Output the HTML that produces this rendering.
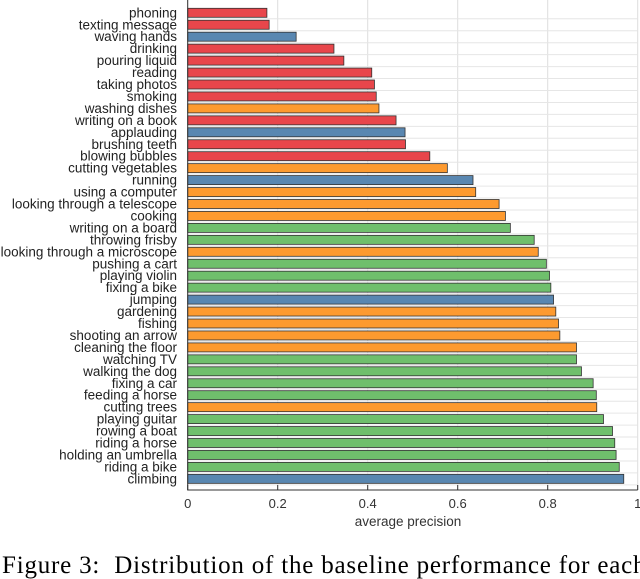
<!DOCTYPE html>
<html><head><meta charset="utf-8"><style>
body{margin:0;background:#fff;width:640px;height:562px;overflow:hidden;position:relative}
svg{position:absolute;left:0;top:0}
.cap{position:absolute;left:2px;top:553px;line-height:1;font-family:"Liberation Serif",serif;font-size:25px;white-space:nowrap;letter-spacing:0.8px}
</style></head><body>
<svg id="chart" width="640" height="562"></svg>
<div class="cap">Figure 3:&nbsp; Distribution of the baseline performance for each</div>
<script>
const categories=["phoning","texting message","waving hands","drinking","pouring liquid","reading","taking photos","smoking","washing dishes","writing on a book","applauding","brushing teeth","blowing bubbles","cutting vegetables","running","using a computer","looking through a telescope","cooking","writing on a board","throwing frisby","looking through a microscope","pushing a cart","playing violin","fixing a bike","jumping","gardening","fishing","shooting an arrow","cleaning the floor","watching TV","walking the dog","fixing a car","feeding a horse","cutting trees","playing guitar","rowing a boat","riding a horse","holding an umbrella","riding a bike","climbing"];
const values=[0.176,0.181,0.241,0.325,0.347,0.409,0.415,0.419,0.425,0.463,0.483,0.484,0.538,0.577,0.634,0.640,0.692,0.706,0.717,0.770,0.779,0.797,0.804,0.807,0.813,0.818,0.824,0.827,0.864,0.864,0.875,0.901,0.908,0.909,0.924,0.944,0.949,0.952,0.959,0.969];
const groups=["r","r","b","r","r","r","r","r","o","r","b","r","r","o","b","o","o","o","g","g","o","g","g","g","b","o","o","o","o","g","g","g","g","o","g","g","g","g","g","b"];
const ticks=[0,0.2,0.4,0.6,0.8,1];
const tickLabels=["0","0.2","0.4","0.6","0.8","1"];
const colors={r:"#e8464b",b:"#5987b1",o:"#fd9a2f",g:"#6fbf6c"};
const NS="http://www.w3.org/2000/svg";
const svg=document.getElementById("chart");
const X0=187.7,X1=637.7,BOT=490,PITCH=11.95,FIRST=12.8;
const x=v=>X0+(X1-X0)*v;
const yc=i=>FIRST+i*PITCH;
function mk(t,a){const e=document.createElementNS(NS,t);for(const k in a)e.setAttribute(k,a[k]);svg.appendChild(e);return e;}
ticks.forEach((t,i)=>{
 const g=mk("line",{x1:x(t),x2:x(t),y1:0,y2:BOT,stroke:"#ddd","stroke-width":1});
 
 
});
categories.forEach((c,i)=>{
 const gl=mk("line",{x1:X0,x2:X1,y1:yc(i)+6,y2:yc(i)+6,stroke:"#e6e6e6","stroke-width":1});
 
 
});
categories.forEach((c,i)=>{
 const r=mk("rect",{x:X0,y:yc(i)-4.5,width:x(values[i])-X0,height:9,fill:colors[groups[i]],stroke:"#333","stroke-width":0.8});
 
 
 const t=mk("text",{x:177,y:yc(i)+4.5,"text-anchor":"end","font-family":"Liberation Sans, sans-serif","font-size":"13.5","fill":"#222"});
 t.textContent=c;
 
 
});
const ax=mk("path",{d:`M${X0} 0 V${BOT} H${X1}`,stroke:"#333",fill:"none","stroke-width":1});


ticks.forEach((t,i)=>{
 const tk=mk("line",{x1:x(t),x2:x(t),y1:BOT,y2:BOT-5,stroke:"#333"});
 
 
 const tl=mk("text",{x:x(t),y:508,"text-anchor":"middle","font-family":"Liberation Sans, sans-serif","font-size":"13","fill":"#333"});
 tl.textContent=tickLabels[i];
 
 
});
const at=mk("text",{x:408,y:526,"text-anchor":"middle","font-family":"Liberation Sans, sans-serif","font-size":"13.5","fill":"#333"});
at.textContent="average precision";


</script>
</body></html>
